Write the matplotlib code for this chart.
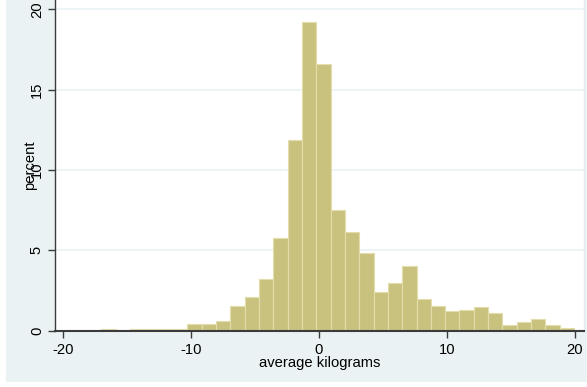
import numpy as np
import matplotlib
matplotlib.use("Agg")
import matplotlib.pyplot as plt
from matplotlib.patches import Rectangle

bin_start = -18.09
bin_width = 1.118
percent = [0.05, 0.10, 0.03, 0.10, 0.10, 0.10, 0.10,
           0.40, 0.40, 0.58, 1.54, 2.10, 3.22, 5.75, 11.87, 19.23,
           16.60, 7.51, 6.16, 4.82, 2.41, 2.97, 4.03, 1.95, 1.54,
           1.25, 1.29, 1.47, 1.08, 0.33, 0.52, 0.73, 0.35, 0.19]
x_ticks = [-20, -10, 0, 10, 20]
y_ticks = [0, 5, 10, 15, 20]
x_title = "average kilograms"
y_title = "percent"

plt.rcParams['font.family'] = ['Liberation Sans', 'DejaVu Sans']
plt.rcParams['axes.unicode_minus'] = False

fundo = '#eaf2f3'
barra = '#c9c27f'
borda = '#e2ddaa'
eixo = '#3b3b3b'

fig = plt.figure(figsize=(5.87, 3.87), dpi=100)
fig.patch.set_facecolor('white')
moldura = Rectangle((6 / 587, 5 / 387), 1, 1, transform=fig.transFigure,
                    facecolor=fundo, edgecolor='none', zorder=-10)
fig.patches.append(moldura)

ax = fig.add_axes([55 / 587, 56.3 / 387, 529 / 587, 1 - 56.3 / 387])
ax.set_zorder(1)
ax.set_facecolor('white')

lefts = bin_start + bin_width * np.arange(len(percent))
ax.bar(lefts, percent, width=bin_width, align='edge',
       color=barra, edgecolor=borda, linewidth=0.8, zorder=2)

ax.set_xlim(-20.6, 20.7)
ax.set_ylim(0, 20.58)
ax.set_xticks(x_ticks)
ax.set_yticks(y_ticks)
ax.set_yticklabels([str(v) for v in y_ticks], rotation=90, va='center')
ax.tick_params(axis='both', direction='out', length=5, width=1, color=eixo,
               labelsize=10.6, labelcolor='black')
ax.tick_params(axis='x', pad=4)
ax.tick_params(axis='y', pad=3)

for v in y_ticks[1:]:
    ax.axhline(v, color=fundo, linewidth=1.2, zorder=1)

for lado in ['top', 'right']:
    ax.spines[lado].set_visible(False)
ax.spines['left'].set_color(eixo)
ax.spines['bottom'].set_color(eixo)
ax.spines['left'].set_linewidth(1)
ax.spines['bottom'].set_linewidth(1.5)
ax.plot([1, 1], [0, 1], transform=ax.transAxes, color='#e4ecee',
        linewidth=1, clip_on=False)

ax.set_xlabel(x_title, fontsize=10.6, labelpad=-1)
ax.set_ylabel(y_title, fontsize=10.6, labelpad=-5)

fig.savefig('out.png', dpi=100, facecolor='white')
